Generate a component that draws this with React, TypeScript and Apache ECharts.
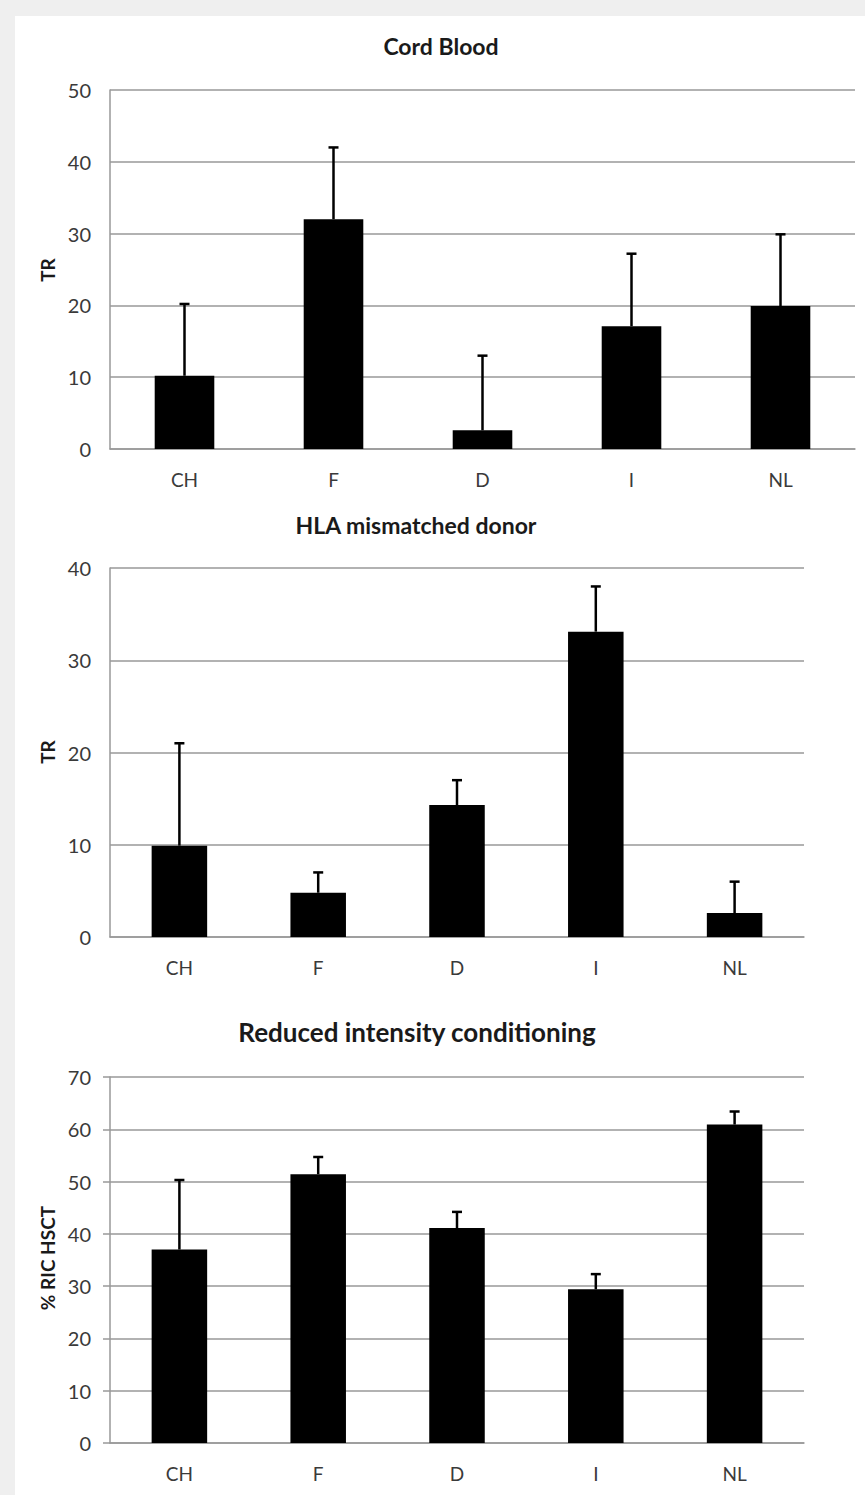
import React, { useEffect, useRef } from "react";
import * as echarts from "echarts";

const categories = ["CH", "F", "D", "I", "NL"];

const cordBloodTitle = "Cord Blood";
const cordBloodTicks = [0, 10, 20, 30, 40, 50];
const cordBloodValues = [10.2, 32, 2.6, 17.1, 19.9];
const cordBloodUpper = [20.2, 42, 13, 27.2, 29.9];

const hlaTitle = "HLA mismatched donor";
const hlaTicks = [0, 10, 20, 30, 40];
const hlaValues = [9.9, 4.8, 14.3, 33.1, 2.6];
const hlaUpper = [21, 7, 17, 38, 6];

const ricTitle = "Reduced intensity conditioning";
const ricTicks = [0, 10, 20, 30, 40, 50, 60, 70];
const ricValues = [37, 51.4, 41.1, 29.4, 60.9];
const ricUpper = [50.3, 54.7, 44.2, 32.3, 63.4];

const FONT = "Lato, 'Open Sans', sans-serif";

export default function App() {
  const ref = useRef<HTMLDivElement>(null);

  useEffect(() => {
    if (!ref.current) return;
    const chart = echarts.init(ref.current, undefined, { renderer: "svg" });

    const grids = [
      { left: 110, top: 90, width: 745, height: 359 },
      { left: 110, top: 568, width: 694, height: 369 },
      { left: 110, top: 1077, width: 694, height: 366 },
    ];
    const panels = [
      { values: cordBloodValues, upper: cordBloodUpper, ticks: cordBloodTicks, yTick: false },
      { values: hlaValues, upper: hlaUpper, ticks: hlaTicks, yTick: false },
      { values: ricValues, upper: ricUpper, ticks: ricTicks, yTick: true },
    ];

    const xAxis = panels.map((p, i) => ({
      type: "category",
      gridIndex: i,
      data: categories,
      axisLine: { show: true, lineStyle: { color: "#999", width: 1.5 } },
      axisTick: { show: false },
      axisLabel: { color: "#3a3a3a", fontSize: 19, fontFamily: FONT, margin: 21 },
    }));

    const yAxis = panels.map((p, i) => ({
      type: "value",
      gridIndex: i,
      min: 0,
      max: p.ticks[p.ticks.length - 1],
      interval: 10,
      axisLine: { show: true, lineStyle: { color: "#999", width: 1.5 } },
      axisTick: { show: p.yTick, length: 7, lineStyle: { color: "#999", width: 1.5 } },
      axisLabel: { color: "#3a3a3a", fontSize: 20, fontFamily: FONT, margin: 19 },
      splitLine: { show: true, lineStyle: { color: "#999", width: 1.5 } },
    }));

    const series: any[] = [];
    panels.forEach((p, i) => {
      series.push({
        type: "bar",
        xAxisIndex: i,
        yAxisIndex: i,
        data: p.values,
        barWidth: "40%",
        itemStyle: { color: "#000" },
        z: 2,
      });
      series.push({
        type: "custom",
        xAxisIndex: i,
        yAxisIndex: i,
        data: p.values.map((v, k) => [k, v, p.upper[k]]),
        z: 3,
        renderItem: (params: any, api: any) => {
          const base = api.coord([api.value(0), api.value(1)]);
          const top = api.coord([api.value(0), api.value(2)]);
          const style = { stroke: "#000", lineWidth: 2.5 };
          return {
            type: "group",
            children: [
              { type: "line", shape: { x1: base[0], y1: base[1], x2: top[0], y2: top[1] }, style },
              { type: "line", shape: { x1: top[0] - 5, y1: top[1], x2: top[0] + 5, y2: top[1] }, style },
            ],
          };
        },
      });
    });

    const titleStyle = (size: number) => ({
      fill: "#1a1a1a",
      font: `bold ${size}px ${FONT}`,
      textAlign: "center",
      textVerticalAlign: "middle",
    });

    const yName = (text: string, x: number, y: number) => ({
      type: "text",
      x,
      y,
      rotation: Math.PI / 2,
      style: {
        text,
        fill: "#1a1a1a",
        font: `bold 19px ${FONT}`,
        textAlign: "center",
        textVerticalAlign: "middle",
      },
    });

    chart.setOption({
      animation: false,
      backgroundColor: "#efefef",
      grid: grids,
      xAxis,
      yAxis,
      series,
      graphic: [
        { type: "rect", z: -100, shape: { x: 15, y: 16, width: 850, height: 1479 }, style: { fill: "#fff" } },
        { type: "text", x: 441, y: 46, style: { text: cordBloodTitle, ...titleStyle(23) } },
        { type: "text", x: 416, y: 525, style: { text: hlaTitle, ...titleStyle(23) } },
        { type: "text", x: 417, y: 1032, style: { text: ricTitle, ...titleStyle(26) } },
        yName("TR", 47, 270),
        yName("TR", 47, 752),
        yName("% RIC HSCT", 47, 1258),
      ],
    });

    return () => chart.dispose();
  }, []);

  return (
    <div
      ref={ref}
      style={{ position: "fixed", left: 0, top: 0, width: 865, height: 1495 }}
    />
  );
}
